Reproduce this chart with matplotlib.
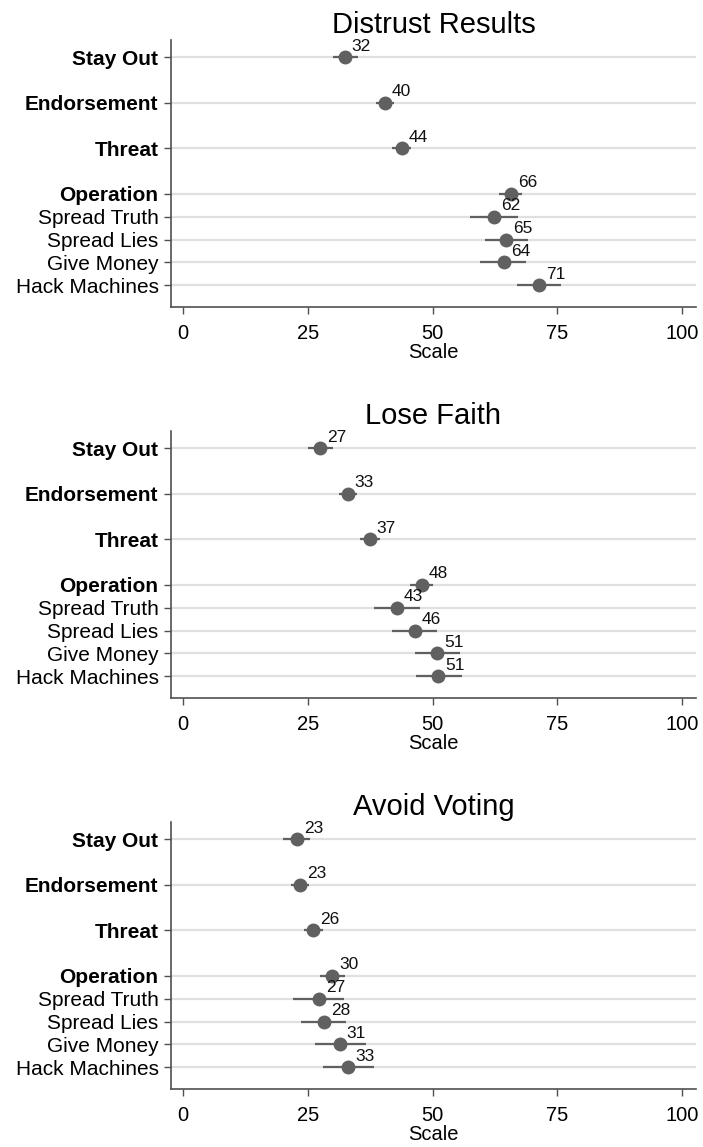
import matplotlib
matplotlib.use("Agg")
import matplotlib.pyplot as plt

plt.rcParams['font.family'] = ['Liberation Sans', 'DejaVu Sans']

categories = ["Stay Out", "Endorsement", "Threat", "Operation",
              "Spread Truth", "Spread Lies", "Give Money", "Hack Machines"]
bold_cats = ["Stay Out", "Endorsement", "Threat", "Operation"]
ypos = [0, 2, 4, 6, 7, 8, 9, 10]

titles = ["Distrust Results", "Lose Faith", "Avoid Voting"]

distrust_est = [32.4, 40.4, 43.8, 65.8, 62.4, 64.8, 64.3, 71.4]
distrust_lo = [30.1, 38.7, 41.9, 63.4, 57.6, 60.6, 59.5, 66.9]
distrust_hi = [35.1, 42.3, 45.7, 67.9, 67.1, 69.1, 68.8, 75.8]

faith_est = [27.4, 33.0, 37.4, 47.9, 42.9, 46.4, 50.9, 51.2]
faith_lo = [25.0, 31.2, 35.5, 45.5, 38.2, 41.8, 46.4, 46.6]
faith_hi = [30.0, 34.8, 39.5, 50.1, 47.5, 51.0, 55.6, 55.9]

avoid_est = [22.8, 23.4, 26.1, 29.9, 27.2, 28.2, 31.4, 33.1]
avoid_lo = [20.1, 21.7, 24.2, 27.5, 22.1, 23.7, 26.4, 28.0]
avoid_hi = [25.4, 25.3, 28.1, 32.4, 32.2, 32.6, 36.6, 38.3]

xticks = [0, 25, 50, 75, 100]

panels = [(distrust_est, distrust_lo, distrust_hi),
          (faith_est, faith_lo, faith_hi),
          (avoid_est, avoid_lo, avoid_hi)]

W, H = 703, 1147
fig = plt.figure(figsize=(W / 100, H / 100), dpi=100)

bottoms_px = [307, 698, 1089]
top_h = 267
grey = "#606060"

for i, (est, lo, hi) in enumerate(panels):
    ax = fig.add_axes([171 / W, (H - bottoms_px[i]) / H, 525 / W, top_h / H])
    for y in ypos:
        ax.axhline(y, color="#e0e0e0", lw=1.6, zorder=0)
    for y, e, l, h in zip(ypos, est, lo, hi):
        ax.plot([l, h], [y, y], color=grey, lw=1.6, zorder=2, solid_capstyle='butt')
        ax.plot(e, y, 'o', color=grey, ms=9, zorder=3)
        ax.annotate(f"{round(e):d}", (e, y), xytext=(5, 2.5),
                    textcoords="offset points", ha="left", va="bottom",
                    fontsize=12.5, color="#111111")
    ax.set_xlim(-2.4, 102.8)
    ax.set_ylim(10.96, -0.75)
    ax.set_xticks(xticks)
    ax.set_xticklabels([str(t) for t in xticks], fontsize=14.5)
    ax.set_yticks(ypos)
    ax.set_yticklabels(categories, fontsize=15)
    for lab in ax.get_yticklabels():
        if lab.get_text() in bold_cats:
            lab.set_fontweight("bold")
    ax.set_xlabel("Scale", fontsize=14.5, labelpad=0)
    ax.set_title(titles[i], fontsize=21, pad=5)
    for s in ["top", "right"]:
        ax.spines[s].set_visible(False)
    for s in ["left", "bottom"]:
        ax.spines[s].set_color("#505050")
        ax.spines[s].set_linewidth(1.2)
    ax.tick_params(axis="both", length=5, width=1.0, color="#505050")
    ax.tick_params(axis="y", pad=4)
    ax.tick_params(axis="x", pad=7)

fig.savefig("out.png", dpi=100)
